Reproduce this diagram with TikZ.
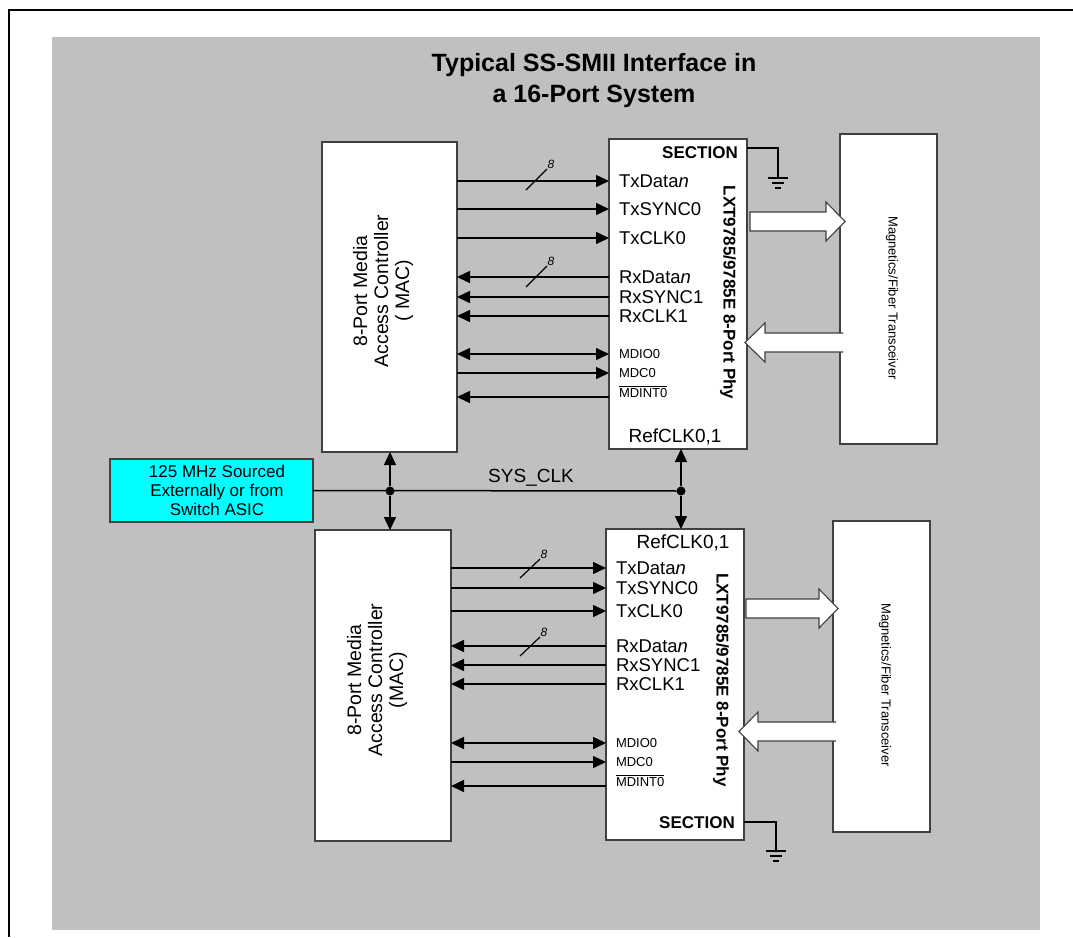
\documentclass[tikz,border=0pt]{standalone}
\usepackage{fontspec}
\setmainfont{Liberation Sans}
\usetikzlibrary{arrows.meta, positioning}

\definecolor{panelgray}{HTML}{C0C0C0}
\definecolor{edgegray}{HTML}{404040}
\definecolor{clkcyan}{HTML}{00FFFF}

\tikzset{
  box/.style={draw=edgegray, line width=1.2pt, fill=white, inner sep=0pt, outer sep=0pt},
  sig/.style={line width=1.5pt, -{Triangle[length=13pt,width=12pt]}},
  bisig/.style={line width=1.5pt, {Triangle[length=13pt,width=12pt]}-{Triangle[length=13pt,width=12pt]}},
  pinlbl/.style={anchor=west, inner sep=0pt, inner xsep=10pt, outer sep=0pt, font=\fontsize{18.5}{20}\selectfont},
  mdlbl/.style={pinlbl, font=\fontsize{13}{14}\selectfont},
  sectlbl/.style={anchor=east, inner sep=0pt, font=\fontsize{17}{19}\selectfont\bfseries},
  phylbl/.style={rotate=-90, inner sep=0pt, font=\fontsize{17}{19}\selectfont\bfseries},
  maclbl/.style={rotate=90, inner sep=0pt, align=center, font=\fontsize{19.5}{21}\selectfont},
  maglbl/.style={rotate=-90, inner sep=0pt, font=\fontsize{13}{14}\selectfont},
  hollow/.style={fill=white, draw=edgegray, line width=1.1pt},
  buswidth/.style={inner sep=0pt, anchor=south west, font=\fontsize{12}{13}\selectfont\itshape},
  gnd/.pic={\draw[line width=1.3pt] (-10,0) -- (10,0) (-6,5) -- (6,5) (-3,10) -- (3,10);}
}

\begin{document}
\begin{tikzpicture}[x=1pt, y=-1pt]
  \useasboundingbox (0,0) rectangle (1073,937);
  % Panel and frame
  \fill[panelgray] (52,37) rectangle (1040,930);
  \draw[line width=2.5pt] (9,937) -- (9,10) -- (1073,10);
  \node[align=center, inner sep=0pt, font=\fontsize{25}{31}\selectfont\bfseries] (title) at (594,81)
    {Typical SS-SMII Interface in\\a 16-Port System};

  % Upper half
  \node[box, minimum width=135pt, minimum height=310pt] (macA) at (389.5,297) {};
  \node[box, minimum width=138pt, minimum height=310pt] (phyA) at (678,294) {};
  \node[box, minimum width=97pt, minimum height=310pt] (magA) at (888.5,289) {};
  \node[maclbl] (macAtxt) at (383,291) {8-Port Media\\Access Controller\\( MAC)};
  \node[phylbl] (phyAtxt) at (728,292.5) {LXT9785/9785E 8-Port Phy};
  \node[maglbl] (magAtxt) at (892,298) {Magnetics/Fiber Transceiver};
  \node[sectlbl] (secA) at (738,153) {SECTION};
  \node[inner sep=0pt, font=\fontsize{19}{20}\selectfont] (refA) at (675,437) {RefCLK0,1};

  \node[pinlbl] (txdA) at (609,181) {TxData\textit{n}};
  \node[pinlbl] (txsA) at (609,209) {TxSYNC0};
  \node[pinlbl] (txcA) at (609,238) {TxCLK0};
  \node[pinlbl] (rxdA) at (609,277) {RxData\textit{n}};
  \node[pinlbl] (rxsA) at (609,297) {RxSYNC1};
  \node[pinlbl] (rxcA) at (609,316) {RxCLK1};
  \node[mdlbl] (mdoA) at (609,354) {MDIO0};
  \node[mdlbl] (mdcA) at (609,373) {MDC0};
  \node[mdlbl, anchor=base west] (mdiA) at (609,397) {$\overline{\hbox{MDINT0}}$};

  \draw[sig] (macA.east |- txdA.west) -- (txdA.west);
  \draw[sig] (macA.east |- txsA.west) -- (txsA.west);
  \draw[sig] (macA.east |- txcA.west) -- (txcA.west);
  \draw[sig] (rxdA.west) -- (macA.east |- rxdA.west);
  \draw[sig] (rxsA.west) -- (macA.east |- rxsA.west);
  \draw[sig] (rxcA.west) -- (macA.east |- rxcA.west);
  \draw[bisig] (macA.east |- mdoA.west) -- (mdoA.west);
  \draw[sig] (macA.east |- mdcA.west) -- (mdcA.west);
  \draw[sig] (mdiA.base west) -- (macA.east |- mdiA.base west);
  % bus width marks
  \draw[line width=1.2pt] (526,190) -- (547,169) node[buswidth] {8};
  \draw[line width=1.2pt] (526,287) -- (547,266) node[buswidth] {8};

  % ground of upper phy
  \coordinate (gA) at (778,178);
  \draw[line width=1.3pt] ([yshift=-9pt]phyA.north east) -| (gA);
  \pic at (gA) {gnd};

  % wide arrows to and from the transceiver
  \draw[hollow] (750,212) -- (826,212) -- (826,202) -- (845,221.5) -- (826,241) -- (826,231) -- (750,231) -- cycle;
  \fill[white] (843,333) -- (765,333) -- (765,323) -- (745,342.5) -- (765,362) -- (765,352) -- (843,352) -- cycle;
  \draw[hollow, fill=none] (843,333) -- (765,333) -- (765,323) -- (745,342.5) -- (765,362) -- (765,352) -- (843,352);

  % System clock
  \node[box, fill=clkcyan, minimum width=203pt, minimum height=63pt, align=center,
    font=\fontsize{17}{19}\selectfont] (clk) at (211.5,490.5)
    {\hspace*{11pt}125 MHz Sourced\\\hspace*{11pt}Externally or from\\\hspace*{11pt}Switch ASIC};
  \node[circle, fill=black, inner sep=0pt, minimum size=9pt] (jA) at (390,491) {};
  \node[circle, fill=black, inner sep=0pt, minimum size=9pt] (jB) at (681,491) {};
  \node[inner sep=0pt, font=\fontsize{19}{20}\selectfont] (sysclk) at (531,478) {SYS\_CLK};
  \draw[line width=1.5pt] (clk.east) -- (jB);

  % Lower half
  \node[box, minimum width=136pt, minimum height=311pt] (macB) at (383,685.5) {};
  \node[box, minimum width=138pt, minimum height=311pt] (phyB) at (675,684.5) {};
  \node[box, minimum width=97pt, minimum height=311pt] (magB) at (881.5,676.5) {};
  \node[maclbl] (macBtxt) at (377,680) {8-Port Media\\Access Controller\\(MAC)};
  \node[phylbl] (phyBtxt) at (721,680) {LXT9785/9785E 8-Port Phy};
  \node[maglbl] (magBtxt) at (885,685) {Magnetics/Fiber Transceiver};
  \node[sectlbl] (secB) at (735,823) {SECTION};
  \node[inner sep=0pt, font=\fontsize{19}{20}\selectfont] (refB) at (683,543) {RefCLK0,1};

  \draw[sig] (jA) -- (jA |- macA.south);
  \draw[sig] (jA) -- (jA |- macB.north);
  \draw[sig] (jB) -- (jB |- phyA.south);
  \draw[sig] (jB) -- (jB |- phyB.north);

  \node[pinlbl] (txdB) at (606,568) {TxData\textit{n}};
  \node[pinlbl] (txsB) at (606,588) {TxSYNC0};
  \node[pinlbl] (txcB) at (606,611) {TxCLK0};
  \node[pinlbl] (rxdB) at (606,646) {RxData\textit{n}};
  \node[pinlbl] (rxsB) at (606,665) {RxSYNC1};
  \node[pinlbl] (rxcB) at (606,684) {RxCLK1};
  \node[mdlbl] (mdoB) at (606,743) {MDIO0};
  \node[mdlbl] (mdcB) at (606,762) {MDC0};
  \node[mdlbl, anchor=base west] (mdiB) at (606,786) {$\overline{\hbox{MDINT0}}$};

  \draw[sig] (macB.east |- txdB.west) -- (txdB.west);
  \draw[sig] (macB.east |- txsB.west) -- (txsB.west);
  \draw[sig] (macB.east |- txcB.west) -- (txcB.west);
  \draw[sig] (rxdB.west) -- (macB.east |- rxdB.west);
  \draw[sig] (rxsB.west) -- (macB.east |- rxsB.west);
  \draw[sig] (rxcB.west) -- (macB.east |- rxcB.west);
  \draw[bisig] (macB.east |- mdoB.west) -- (mdoB.west);
  \draw[sig] (macB.east |- mdcB.west) -- (mdcB.west);
  \draw[sig] (mdiB.base west) -- (macB.east |- mdiB.base west);
  \draw[line width=1.2pt] (520,578) -- (540,559) node[buswidth] {8};
  \draw[line width=1.2pt] (520,656) -- (540,637) node[buswidth] {8};

  % ground of lower phy
  \coordinate (gB) at (776,851);
  \draw[line width=1.3pt] ([yshift=18pt]phyB.south east) -| (gB);
  \pic at (gB) {gnd};

  \draw[hollow] (746,599) -- (819,599) -- (819,589) -- (838,608.5) -- (819,628) -- (819,618) -- (746,618) -- cycle;
  \fill[white] (836,722) -- (758,722) -- (758,712) -- (739,731.5) -- (758,751) -- (758,741) -- (836,741) -- cycle;
  \draw[hollow, fill=none] (836,722) -- (758,722) -- (758,712) -- (739,731.5) -- (758,751) -- (758,741) -- (836,741);
\end{tikzpicture}
\end{document}
